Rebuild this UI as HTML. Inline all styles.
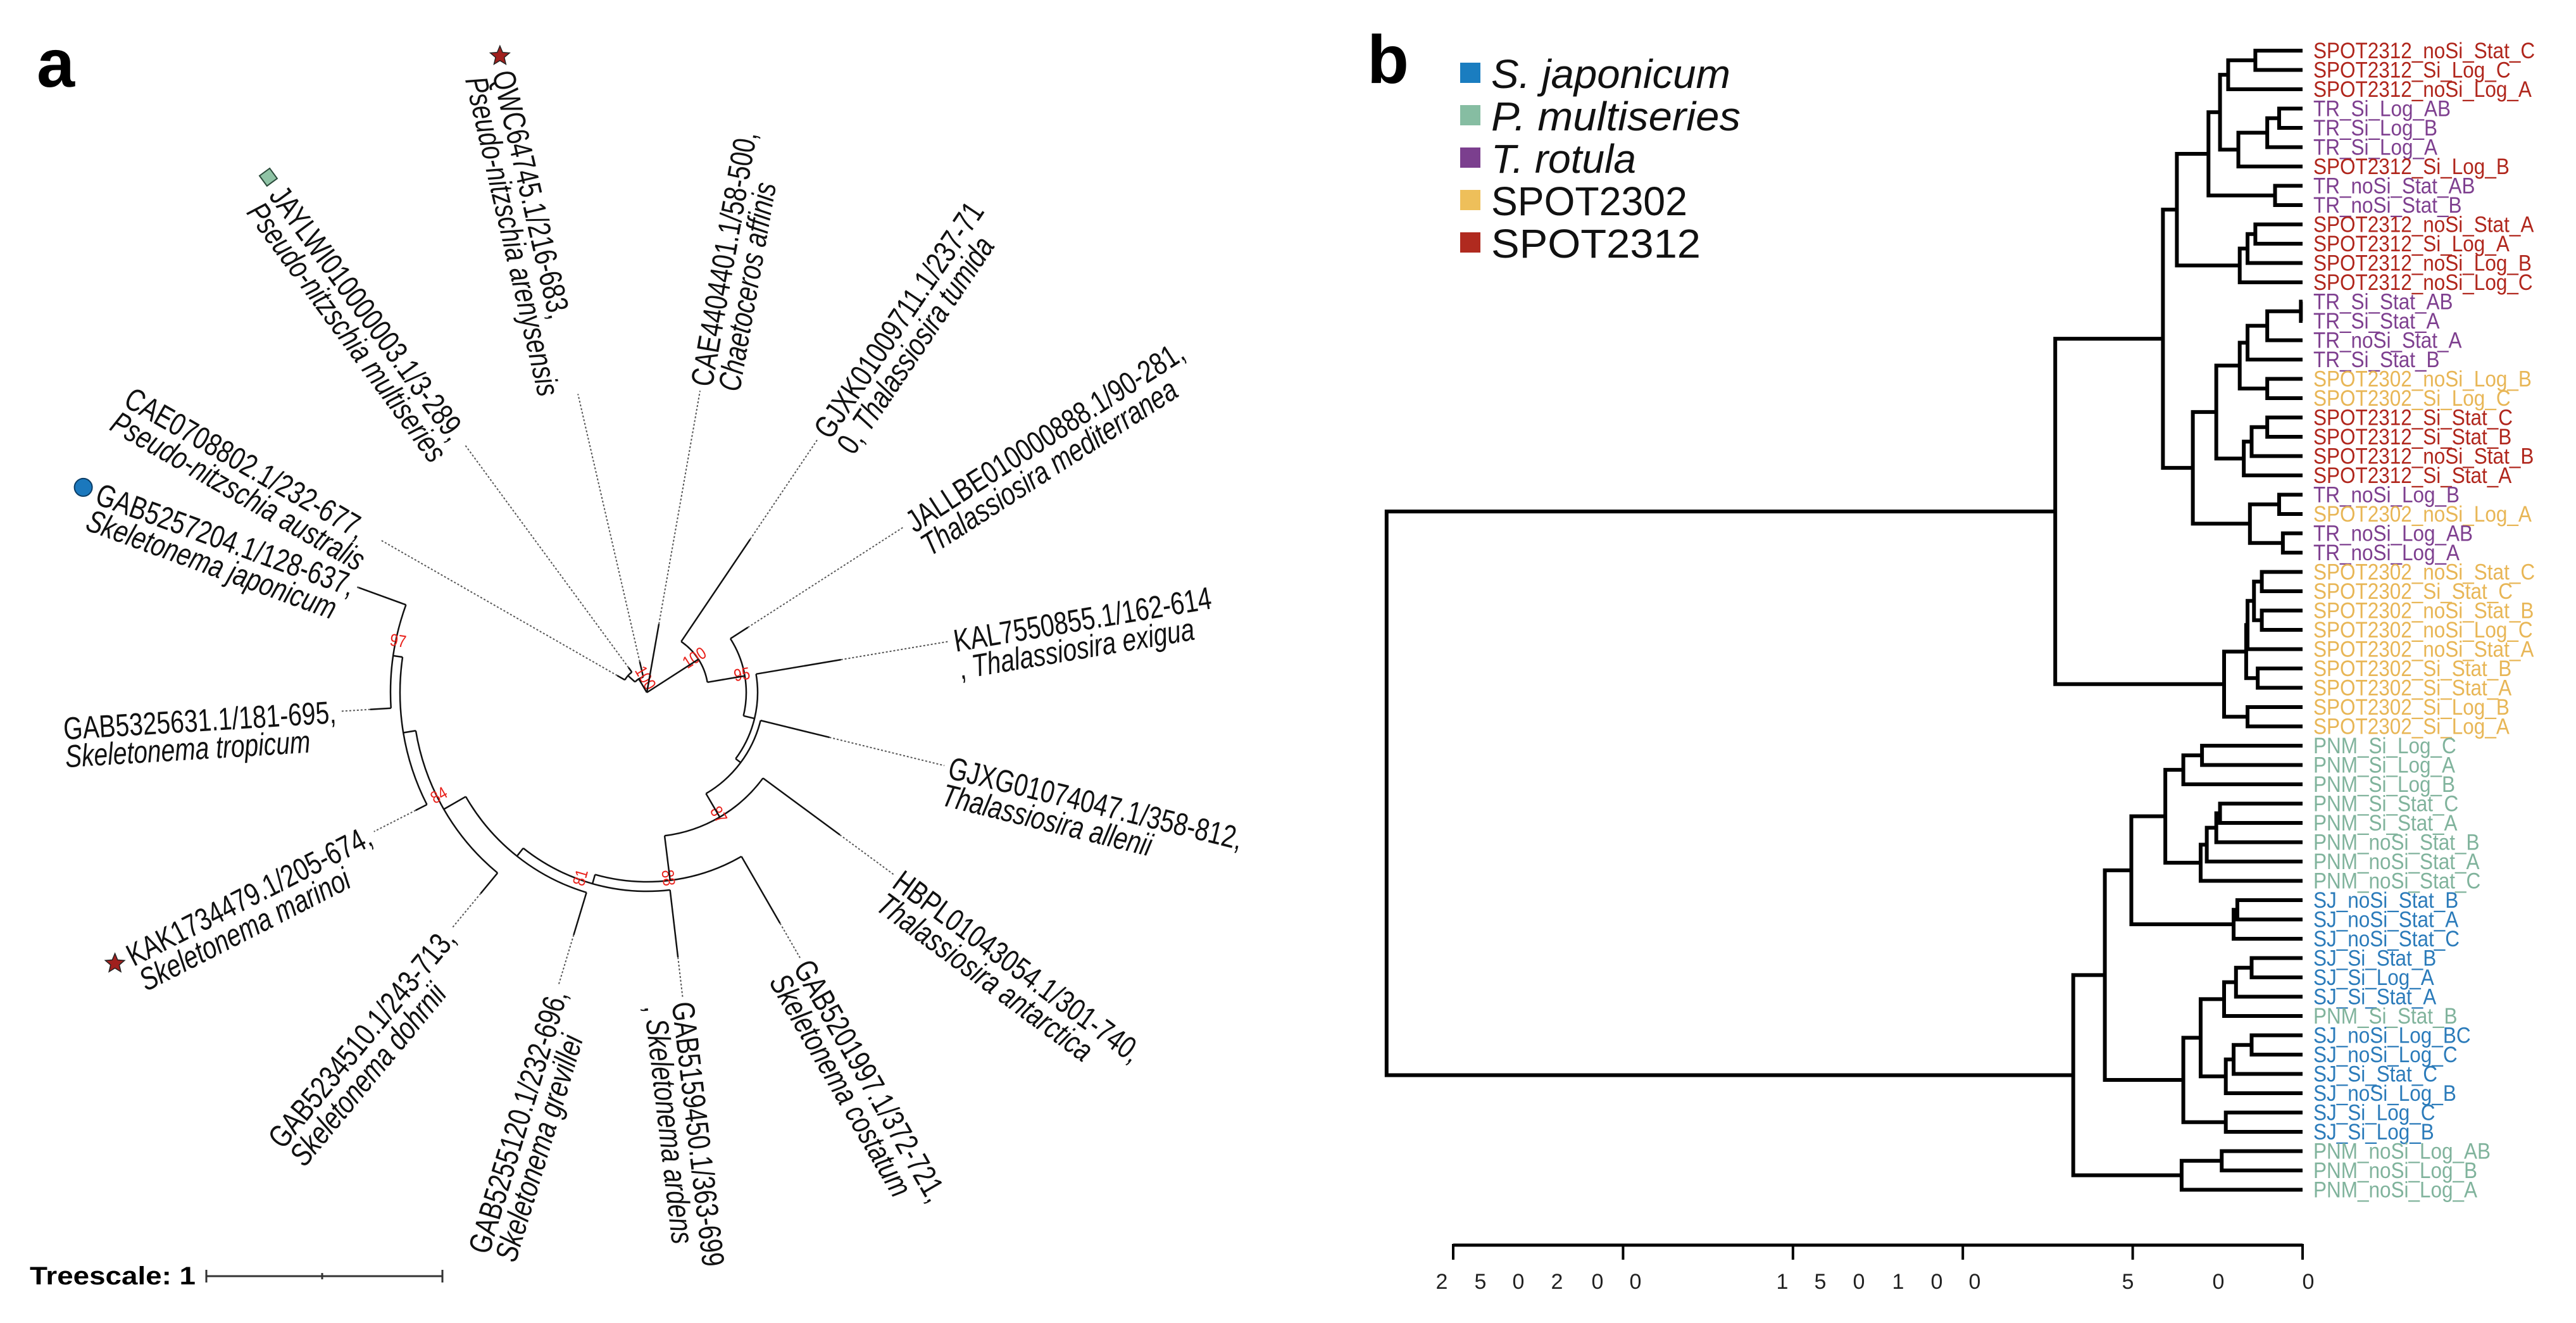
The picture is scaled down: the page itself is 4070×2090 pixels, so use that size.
<!DOCTYPE html>
<html><head><meta charset="utf-8"><style>
html,body{margin:0;padding:0;background:#fff;}
svg{display:block;font-family:"Liberation Sans",sans-serif;}
</style></head><body>
<svg id="fig" width="4070" height="2090" viewBox="0 0 4070 2090" xmlns="http://www.w3.org/2000/svg">
<rect width="4070" height="2090" fill="#fff"/>
<text x="58" y="137" font-size="108" font-weight="bold">a</text>
<text x="2160" y="131" font-size="108" font-weight="bold">b</text>
<g id="treeA"></g>
<g id="treescale">
<text x="47" y="2029" font-size="40" font-weight="bold" textLength="262" lengthAdjust="spacingAndGlyphs">Treescale: 1</text>
<line x1="326" y1="2016" x2="699" y2="2016" stroke="#333" stroke-width="3"/>
<line x1="326" y1="2006" x2="326" y2="2026" stroke="#333" stroke-width="3"/>
<line x1="509" y1="2011" x2="509" y2="2021" stroke="#333" stroke-width="3"/>
<line x1="699" y1="2006" x2="699" y2="2026" stroke="#333" stroke-width="3"/>
</g>
<g id="legendB"></g>
<g id="dendroB"></g>
<g id="axisB">
<g font-size="34" fill="#222" text-anchor="middle">
<text x="2278" y="2036">2</text><text x="2339" y="2036">5</text><text x="2399" y="2036">0</text>
<text x="2460" y="2036">2</text><text x="2524" y="2036">0</text><text x="2584" y="2036">0</text>
<text x="2816" y="2036">1</text><text x="2876" y="2036">5</text><text x="2937" y="2036">0</text>
<text x="2999" y="2036">1</text><text x="3060" y="2036">0</text><text x="3120" y="2036">0</text>
<text x="3362" y="2036">5</text><text x="3505" y="2036">0</text><text x="3647" y="2036">0</text>
</g>
</g>
</svg>
<script>
const NS="http://www.w3.org/2000/svg";
function mk(tag,attrs,parent){const e=document.createElementNS(NS,tag);for(const k in attrs)e.setAttribute(k,attrs[k]);parent.appendChild(e);return e;}

/* ---------- Panel a: circular tree data ---------- */
const leafIds=["GAB5257204.1/128-637,","GAB5325631.1/181-695,","KAK1734479.1/205-674,","GAB5234510.1/243-713,","GAB5255120.1/232-696,","GAB5159450.1/363-699","GAB5201997.1/372-721,","HBPL01043054.1/301-740,","GJXG01074047.1/358-812,","KAL7550855.1/162-614","JALLBE010000888.1/90-281,","GJXK01009711.1/237-71","CAE4404401.1/58-500,","QWC64745.1/216-683,","JAYLWI010000003.1/3-289,","CAE0708802.1/232-677,"];
const leafPrefix=["","","","","",", ","","","",", ","","0, ","","","",""];
const leafSpecies=["Skeletonema japonicum","Skeletonema tropicum","Skeletonema marinoi","Skeletonema dohrnii","Skeletonema grevillei","Skeletonema ardens","Skeletonema costatum","Thalassiosira antarctica","Thalassiosira allenii","Thalassiosira exigua","Thalassiosira mediterranea","Thalassiosira tumida","Chaetoceros affinis","Pseudo-nitzschia arenysensis","Pseudo-nitzschia multiseries","Pseudo-nitzschia australis"];
const leafAngles=[200,176.5,153,129.6,106.8,83.3,60,36.4,13.8,-9.6,-32.8,-56,-80,-103,-126.3,-150.2];
const leafDepth=[487,438,410,412,400,421,421,379,297,311,190,292,110,50,49,54];
const leafMarker=["circle","","star","","","","","","","","","","","star","square",""];
const nodeKids=[[1,0],[2,16],[3,17],[4,18],[5,19],[6,20],[7,21],[8,22],[9,23],[10,24],[11,25],[15,14],[27,13],[28,12,26]];
const nodeDepth=[405,390,370,330,314,299,228,185,175,157,97,40,25,0];
const nodeSupport=["97","","84","","81","88","87","","","95","100","","100",""];

const C=[1022,1094], RL=492, FS=50, SX=0.78, LH=44;
const nL=leafAngles.length;
const gA=document.getElementById('treeA');
function pol(r,a){const t=a*Math.PI/180;return [C[0]+r*Math.cos(t),C[1]+r*Math.sin(t)];}
const angleOf={},depthOf={};
for(let i=0;i<nL;i++){angleOf[i]=leafAngles[i];depthOf[i]=leafDepth[i];}
function ang(idx){
  if(angleOf[idx]!==undefined)return angleOf[idx];
  const ks=nodeKids[idx-nL].map(ang);
  angleOf[idx]=(Math.min(...ks)+Math.max(...ks))/2;depthOf[idx]=nodeDepth[idx-nL];return angleOf[idx];
}
for(let k=0;k<nodeKids.length;k++)ang(nL+k);
for(let k=0;k<nodeKids.length;k++){
  const r=nodeDepth[k], ks=nodeKids[k];
  const as=ks.map(c=>angleOf[c]);const a1=Math.min(...as),a2=Math.max(...as);
  if(r>0){
    const p1=pol(r,a1),p2=pol(r,a2);
    const arc=mk('path',{d:`M${p1[0]},${p1[1]} A${r},${r} 0 ${(a2-a1)>180?1:0} 1 ${p2[0]},${p2[1]}`,fill:'none',stroke:'#111','stroke-width':2.5},gA);
    
    
  }
  ks.forEach(c=>{
    const p=pol(r,angleOf[c]),q=pol(depthOf[c],angleOf[c]);
    const ln=mk('line',{x1:p[0],y1:p[1],x2:q[0],y2:q[1],stroke:'#111','stroke-width':2.5},gA);
    
    
  });
  if(nodeSupport[k]){
    const a=angleOf[nL+k];const pp=pol(r-4,a+2.2);
    const na=((a%360)+360)%360;let rot=a;if(na>90&&na<270)rot=a-180;
    const st=mk('text',{x:0,y:0,'font-size':27,fill:'#e8201a','text-anchor':'middle',transform:`translate(${pp[0]},${pp[1]}) rotate(${rot}) scale(0.85,1)`},gA);
    st.textContent=nodeSupport[k];
    
    
  }
}
function starPath(cx,cy,R){let d='';for(let i=0;i<10;i++){const rr=i%2?R*0.45:R;const t=(-90+i*36)*Math.PI/180;d+=(i?'L':'M')+(cx+rr*Math.cos(t))+','+(cy+rr*Math.sin(t));}return d+'Z';}
for(let i=0;i<nL;i++){
  const a=leafAngles[i];const na=((a%360)+360)%360;const flip=na>90&&na<270;
  const t0=pol(leafDepth[i],a),t1=pol(RL-8,a);
  const dl=mk('line',{x1:t0[0],y1:t0[1],x2:t1[0],y2:t1[1],stroke:'#555','stroke-width':2,'stroke-dasharray':'3,3'},gA);
  
  
  const g=mk('g',{},gA);
  
  
  const t=mk('text',{'font-size':FS,fill:'#111'},g);
  const s1=mk('tspan',{x:0,y:18},t);s1.textContent=leafIds[i];
  const s2=mk('tspan',{x:0,y:18+LH},t);
  if(leafPrefix[i]){const sp=mk('tspan',{},s2);sp.textContent=leafPrefix[i];}
  const si=mk('tspan',{'font-style':'italic'},s2);si.textContent=leafSpecies[i];
  const W=Math.max(s1.getComputedTextLength(),s2.getComputedTextLength())*SX;
  let pos,rot;
  if(flip){pos=pol(RL+W,a);rot=a-180;}else{pos=pol(RL,a);rot=a;}
  t.setAttribute('transform',`translate(${pos[0]},${pos[1]}) rotate(${rot}) scale(${SX},1)`);
  if(leafMarker[i]){
    const mpos=flip?pol(RL+W+24,a):pol(RL-24,a);
    let m;
    if(leafMarker[i]==='circle')m=mk('circle',{cx:mpos[0],cy:mpos[1],r:14,fill:'#1b78bd',stroke:'#0b3d66','stroke-width':2},gA);
    else if(leafMarker[i]==='square')m=mk('rect',{x:mpos[0]-10,y:mpos[1]-10,width:20,height:20,fill:'#8fc3a5',stroke:'#2a4a3a','stroke-width':2,transform:`rotate(${rot} ${mpos[0]} ${mpos[1]})`},gA);
    else m=mk('path',{d:starPath(mpos[0],mpos[1],16),fill:'#a0201e',stroke:'#222','stroke-width':1.5},gA);
    
    
  }
}

/* ---------- Panel b: legend ---------- */
const legendLabels=["S. japonicum","P. multiseries","T. rotula","SPOT2302","SPOT2312"];
const legendColors=["#1a7dc0","#86bda2","#7b3f8e","#eebf5a","#b02a1f"];
const legendItalic=[true,true,true,false,false];
const legendWidths=[378,394,229,310,331];
const gL=document.getElementById('legendB');
legendLabels.forEach((lab,i)=>{
  const y=139+i*67;
  const r=mk('rect',{x:2307,y:y-40,width:32,height:32,fill:legendColors[i]},gL);
  
  
  const t=mk('text',{x:2356,y:y,'font-size':64,'font-style':legendItalic[i]?'italic':'normal',fill:'#111',textLength:legendWidths[i],lengthAdjust:'spacingAndGlyphs'},gL);
  t.textContent=lab;
  
  
});

/* ---------- Panel b: dendrogram data ---------- */
const leafLabels=["SPOT2312_noSi_Stat_C","SPOT2312_Si_Log_C","SPOT2312_noSi_Log_A","TR_Si_Log_AB","TR_Si_Log_B","TR_Si_Log_A","SPOT2312_Si_Log_B","TR_noSi_Stat_AB","TR_noSi_Stat_B","SPOT2312_noSi_Stat_A","SPOT2312_Si_Log_A","SPOT2312_noSi_Log_B","SPOT2312_noSi_Log_C","TR_Si_Stat_AB","TR_Si_Stat_A","TR_noSi_Stat_A","TR_Si_Stat_B","SPOT2302_noSi_Log_B","SPOT2302_Si_Log_C","SPOT2312_Si_Stat_C","SPOT2312_Si_Stat_B","SPOT2312_noSi_Stat_B","SPOT2312_Si_Stat_A","TR_noSi_Log_B","SPOT2302_noSi_Log_A","TR_noSi_Log_AB","TR_noSi_Log_A","SPOT2302_noSi_Stat_C","SPOT2302_Si_Stat_C","SPOT2302_noSi_Stat_B","SPOT2302_noSi_Log_C","SPOT2302_noSi_Stat_A","SPOT2302_Si_Stat_B","SPOT2302_Si_Stat_A","SPOT2302_Si_Log_B","SPOT2302_Si_Log_A","PNM_Si_Log_C","PNM_Si_Log_A","PNM_Si_Log_B","PNM_Si_Stat_C","PNM_Si_Stat_A","PNM_noSi_Stat_B","PNM_noSi_Stat_A","PNM_noSi_Stat_C","SJ_noSi_Stat_B","SJ_noSi_Stat_A","SJ_noSi_Stat_C","SJ_Si_Stat_B","SJ_Si_Log_A","SJ_Si_Stat_A","PNM_Si_Stat_B","SJ_noSi_Log_BC","SJ_noSi_Log_C","SJ_Si_Stat_C","SJ_noSi_Log_B","SJ_Si_Log_C","SJ_Si_Log_B","PNM_noSi_Log_AB","PNM_noSi_Log_B","PNM_noSi_Log_A"];
const mergeA=[-1,1,-4,3,4,2,-8,6,-10,9,10,8,-14,13,14,-18,15,-20,18,19,17,-24,-26,22,21,12,-28,-30,27,29,-33,30,-35,32,26,-37,36,-40,38,39,40,37,-45,43,42,-48,46,47,-52,49,50,48,-56,52,45,-58,56,55,35];
const mergeB=[-2,-3,-5,-6,-7,5,-9,7,-11,-12,-13,11,-15,-16,-17,-19,16,-21,-22,-23,20,-25,-27,23,24,25,-29,-31,28,-32,-34,31,-36,33,34,-38,-39,-41,-42,-43,-44,41,-46,-47,44,-49,-50,-51,-53,-54,-55,51,-57,53,54,-59,-60,57,58];
const mergeHeight=[13.9,21.9,6.9,10.4,18.9,24.3,8.1,27.7,13.9,16.2,18.5,37.0,0.5,10.4,16.2,10.4,18.5,10.4,15.0,17.3,25.4,6.9,5.8,15.5,32.3,41.1,12.0,12.0,14.3,16.2,13.2,16.6,16.2,23.1,72.8,29.6,35.1,24.3,25.4,28.2,30.0,40.4,19.2,20.3,50.4,15.0,19.6,23.1,15.0,20.3,22.6,30.0,22.6,35.1,58.2,23.8,35.6,67.5,269.6];
const axisTicks=[0,50,100,150,200,250];

function groupColor(l){if(l.startsWith('SPOT2312'))return '#b0261c';if(l.startsWith('SPOT2302'))return '#e8b656';if(l.startsWith('TR'))return '#7e3f8f';if(l.startsWith('PNM'))return '#80b39c';return '#2b7bba';}
const xB=h=>3638-h*5.368;
const yB=i=>80+i*30.5;
const gD=document.getElementById('dendroB');
leafLabels.forEach((l,i)=>{
  const t=mk('text',{x:0,y:0,'font-size':35,fill:groupColor(l),transform:`translate(3655,${yB(i)+12}) scale(0.9,1)`},gD);
  t.textContent=l;
  
  
});
const nodeY=[],nodeH=[];
function info(ref){return ref<0?{y:yB(-ref-1),h:0}:{y:nodeY[ref-1],h:nodeH[ref-1]};}
for(let k=0;k<mergeA.length;k++){
  const a=info(mergeA[k]),b=info(mergeB[k]),h=mergeHeight[k];
  nodeY[k]=(a.y+b.y)/2;nodeH[k]=h;
  const p=mk('path',{d:`M${xB(a.h)},${a.y}H${xB(h)}V${b.y}H${xB(b.h)}`,fill:'none',stroke:'#000','stroke-width':6,'stroke-linejoin':'miter'},gD);
  
  
}
const gX=document.getElementById('axisB');
const ax=mk('line',{x1:xB(250),y1:1967,x2:xB(0),y2:1967,stroke:'#000','stroke-width':5},gX);


axisTicks.forEach(v=>{
  const tk=mk('line',{x1:xB(v),y1:1965,x2:xB(v),y2:1990,stroke:'#000','stroke-width':4},gX);
  
  
});
</script>
</body></html>
